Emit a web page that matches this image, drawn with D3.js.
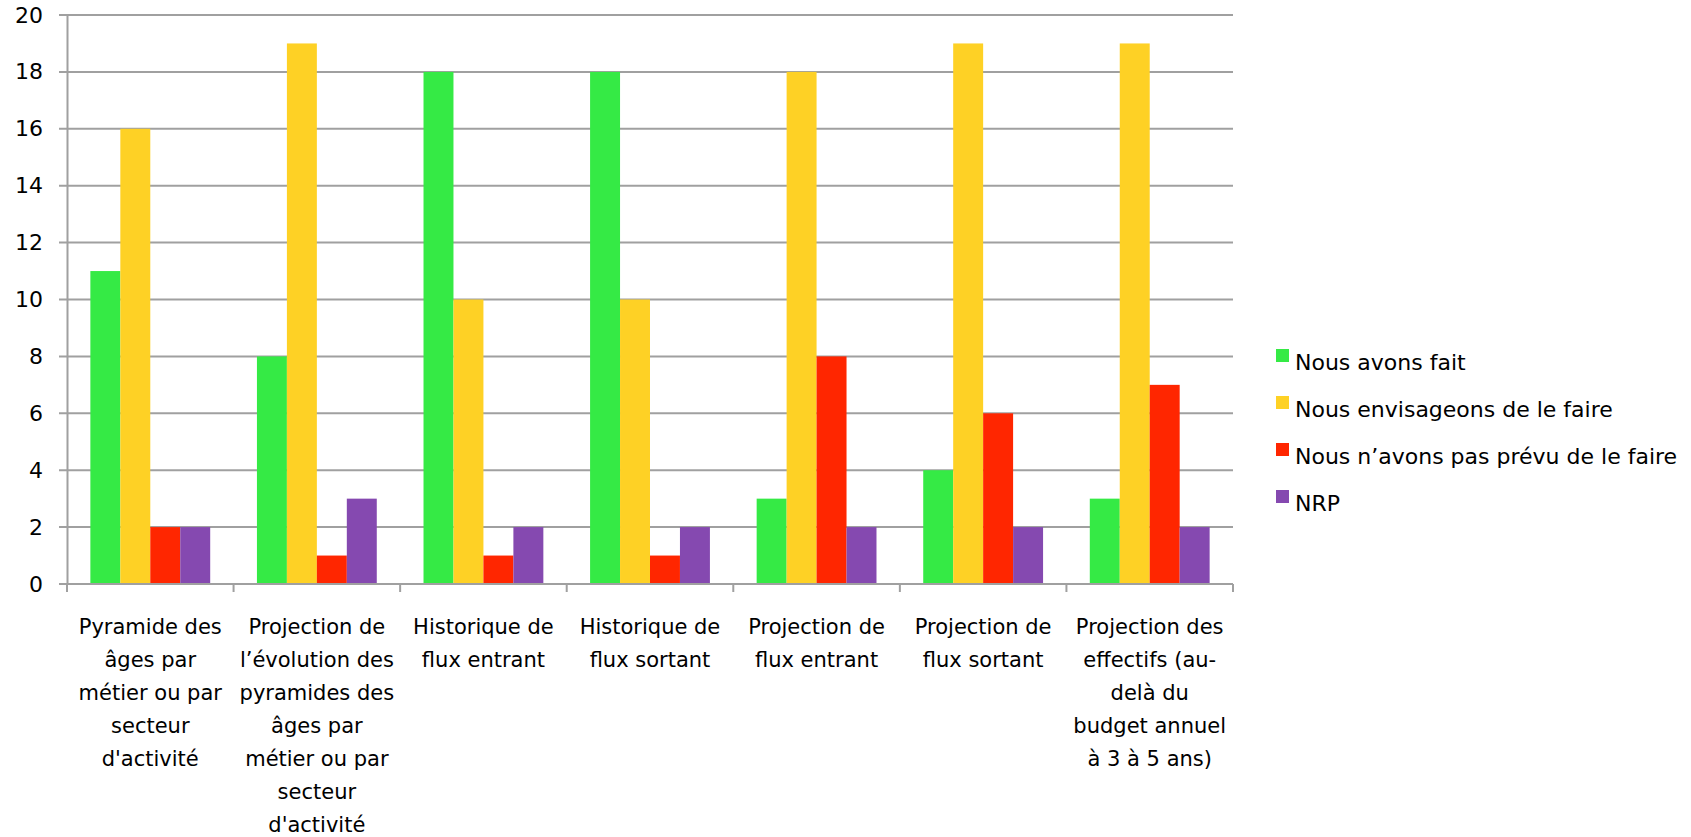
<!DOCTYPE html>
<html>
<head>
<meta charset="utf-8">
<script src="https://cdn.jsdelivr.net/npm/d3@7"></script>
<style>
  html, body { margin: 0; padding: 0; background: #fff; }
  svg { display: block; }
  text { font-family: "DejaVu Sans", sans-serif; fill: #000; }
</style>
</head>
<body>
<svg id="chart" width="1691" height="837"></svg>
<script>
// Category labels (line breaks as drawn under the axis)
const categories = [
  "Pyramide des\nâges par\nmétier ou par\nsecteur\nd'activité",
  "Projection de\nl’évolution des\npyramides des\nâges par\nmétier ou par\nsecteur\nd'activité",
  "Historique de\nflux entrant",
  "Historique de\nflux sortant",
  "Projection de\nflux entrant",
  "Projection de\nflux sortant",
  "Projection des\neffectifs (au-\ndelà du\nbudget annuel\nà 3 à 5 ans)"
];

const seriesNames = [
  "Nous avons fait",
  "Nous envisageons de le faire",
  "Nous n’avons pas prévu de le faire",
  "NRP"
];

const fait        = [11, 8, 18, 18, 3, 4, 3];
const envisageons = [16, 19, 10, 10, 18, 19, 19];
const pasPrevu    = [2, 1, 1, 1, 8, 6, 7];
const nrp         = [2, 3, 2, 2, 2, 2, 2];

const yTicks = [0, 2, 4, 6, 8, 10, 12, 14, 16, 18, 20];

const seriesValues = [fait, envisageons, pasPrevu, nrp];
const colors = ["#35ea45", "#fed125", "#ff2600", "#8549b0"];

const svg = d3.select("#chart");
const plot = { left: 67, right: 1233, top: 15, bottom: 584 };

const x = d3.scaleBand()
  .domain(d3.range(categories.length))
  .range([plot.left, plot.right])
  .paddingInner(0).paddingOuter(0);

const xInner = d3.scaleBand()
  .domain(d3.range(seriesNames.length))
  .range([0, x.bandwidth()])
  .paddingOuter(0.78).paddingInner(0);

const y = d3.scaleLinear().domain([0, 20]).range([plot.bottom, plot.top]);

const gridColor = "#a0a0a0";

// Horizontal gridlines with short ticks to the left of the axis
svg.append("g")
  .selectAll("line")
  .data(yTicks)
  .join("line")
  .attr("x1", plot.left - 8)
  .attr("x2", plot.right)
  .attr("y1", d => y(d))
  .attr("y2", d => y(d))
  .attr("stroke", gridColor)
  .attr("stroke-width", 2);

// Value axis
const yAxis = d3.axisLeft(y).tickValues(yTicks).tickSize(0).tickPadding(24);
const yg = svg.append("g").attr("transform", `translate(${plot.left},0)`).call(yAxis);
yg.select(".domain").attr("stroke", gridColor).attr("stroke-width", 2);
yg.selectAll("text")
  .style("font-family", "'DejaVu Sans', sans-serif")
  .style("font-size", "22px")
  .attr("fill", "#000");

// Bars
const groups = svg.append("g")
  .selectAll("g")
  .data(seriesValues)
  .join("g")
  .attr("fill", (d, i) => colors[i]);

groups.each(function(vals, si) {
  d3.select(this).selectAll("rect")
    .data(vals)
    .join("rect")
    .attr("x", (v, ci) => x(ci) + xInner(si))
    .attr("width", xInner.bandwidth())
    .attr("y", v => y(v))
    .attr("height", v => y(0) - y(v));
});

// Category axis: baseline and boundary ticks
const xBounds = d3.range(categories.length + 1).map(i => plot.left + i * x.bandwidth());
svg.append("line")
  .attr("x1", plot.left).attr("x2", plot.right)
  .attr("y1", plot.bottom).attr("y2", plot.bottom)
  .attr("stroke", gridColor).attr("stroke-width", 2);
svg.append("g")
  .selectAll("line")
  .data(xBounds)
  .join("line")
  .attr("x1", d => d).attr("x2", d => d)
  .attr("y1", plot.bottom).attr("y2", plot.bottom + 8)
  .attr("stroke", gridColor).attr("stroke-width", 2);

// Category labels
const labels = svg.append("g")
  .selectAll("text")
  .data(categories)
  .join("text")
  .attr("text-anchor", "middle")
  .style("font-size", "21px")
  .attr("x", (d, i) => x(i) + x.bandwidth() / 2)
  .attr("y", 634);

labels.each(function(label, i) {
  d3.select(this).selectAll("tspan")
    .data(label.split("\n"))
    .join("tspan")
    .attr("x", x(i) + x.bandwidth() / 2)
    .attr("dy", (l, j) => j === 0 ? 0 : 33)
    .text(l => l);
});

// Legend
const legend = svg.append("g").attr("transform", "translate(1276,0)");
const legendY = d3.scalePoint().domain(d3.range(seriesNames.length)).range([362, 503]);
const items = legend.selectAll("g")
  .data(seriesNames)
  .join("g")
  .attr("transform", (d, i) => `translate(0,${legendY(i)})`);
items.append("rect")
  .attr("x", 0).attr("y", -13)
  .attr("width", 13).attr("height", 13)
  .attr("fill", (d, i) => colors[i]);
items.append("text")
  .attr("x", 19).attr("y", 8)
  .style("font-size", "22px")
  .text(d => d);
</script>
</body>
</html>
